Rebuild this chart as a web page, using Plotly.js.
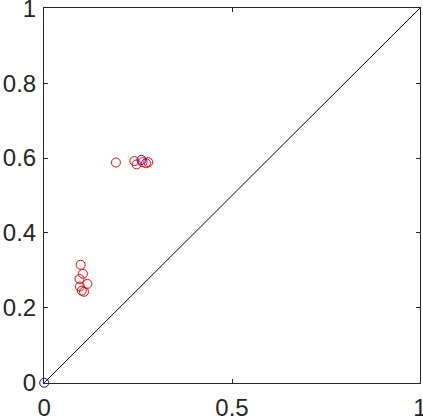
<!DOCTYPE html>
<html>
<head>
<meta charset="utf-8">
<script src="https://cdn.plot.ly/plotly-3.0.1.min.js"></script>
<style>
  html, body { margin: 0; padding: 0; background: #fff; }
  #plot { width: 423px; height: 419px; }
</style>
</head>
<body>
<div id="plot"></div>
<script>
// reference diagonal y = x
const diagX = [0, 1];
const diagY = [0, 1];

// red points (two clusters)
const redX = [0.191, 0.240, 0.246, 0.262, 0.271, 0.277,
              0.097, 0.103, 0.094, 0.115, 0.095, 0.100, 0.106];
const redY = [0.588, 0.592, 0.583, 0.589, 0.586, 0.589,
              0.315, 0.291, 0.277, 0.264, 0.257, 0.246, 0.243];

// blue points
const blueX = [0, 0.259];
const blueY = [0, 0.595];

const axisColor = '#262626';

const line = {
  x: diagX, y: diagY,
  mode: 'lines', type: 'scatter',
  line: { color: '#000000', width: 1 },
  hoverinfo: 'skip'
};

const red = {
  x: redX, y: redY,
  mode: 'markers', type: 'scatter',
  marker: { symbol: 'circle-open', size: 9, color: '#ff0000', line: { width: 1 } },
  cliponaxis: false
};

const blue = {
  x: blueX, y: blueY,
  mode: 'markers', type: 'scatter',
  marker: { symbol: 'circle-open', size: 9, color: '#0000ff', line: { width: 1 } },
  cliponaxis: false
};

const axisBase = {
  range: [-0.0005, 1.0005],
  showgrid: false,
  zeroline: false,
  showline: true,
  linecolor: axisColor,
  linewidth: 1,
  mirror: 'allticks',
  ticks: 'inside',
  ticklen: 4,
  tickcolor: axisColor,
  ticklabeloverflow: 'allow',
  tickfont: { family: 'Liberation Sans, Arial, sans-serif', size: 24, color: axisColor }
};

const layout = {
  width: 423,
  height: 419,
  margin: { l: 44, r: 3, t: 8, b: 36 },
  showlegend: false,
  paper_bgcolor: '#ffffff',
  plot_bgcolor: '#ffffff',
  xaxis: Object.assign({}, axisBase, { tickvals: [0, 0.5, 1], ticklabelstandoff: 3 }),
  yaxis: Object.assign({}, axisBase, { tickvals: [0, 0.2, 0.4, 0.6, 0.8, 1], ticklabelstandoff: 2 })
};

Plotly.newPlot('plot', [line, red, blue], layout, { staticPlot: true, displayModeBar: false });
</script>
</body>
</html>
